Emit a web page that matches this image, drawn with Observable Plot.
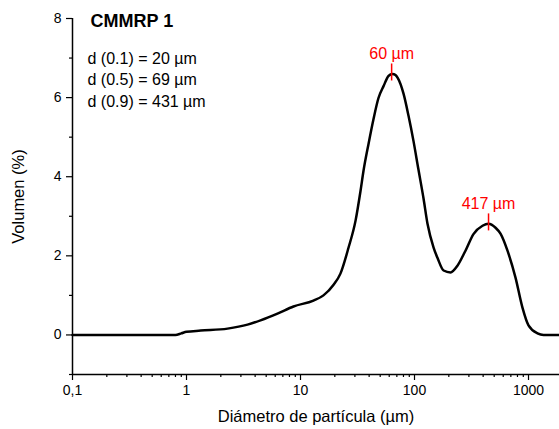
<!DOCTYPE html>
<html>
<head>
<meta charset="utf-8">
<script src="https://cdn.jsdelivr.net/npm/d3@7"></script>
<script src="https://cdn.jsdelivr.net/npm/@observablehq/plot@0.6"></script>
<style>
  html, body { margin: 0; padding: 0; background: #fff; }
  #chart svg { font-family: "Liberation Sans", Arial, sans-serif; display: block; }
  #chart svg g[aria-label="x-axis tick label"] text,
  #chart svg g[aria-label="y-axis tick label"] text { font-size: 14px; }
  #chart svg g[aria-label="x-axis label"] text,
  #chart svg g[aria-label="y-axis label"] text { font-size: 16.5px; }
</style>
</head>
<body>
<div id="chart"></div>
<script>
// Particle size distribution (µm) vs volume (%)
const diameters = [0.1, 0.3, 0.6, 0.8, 0.9, 1.0, 1.33, 2.29, 3.43, 4.46, 6.28, 8.68, 13.0, 15.9, 19.5, 22.4, 26.4, 30.4, 33.6, 35.7, 39.5, 43.7, 48.3, 53.5, 59.2, 64, 68.1, 71.2, 80.1, 88.6, 98, 108, 120, 130, 147, 159, 180, 207, 238, 280, 329, 395, 446, 514, 568, 654, 769, 885, 1000, 1199, 1355, 1600, 1870];
const volumes   = [0,   0,   0,   0,   0.04, 0.08, 0.11, 0.16, 0.26, 0.37, 0.54, 0.72, 0.87, 1.0,  1.27, 1.55, 2.21, 2.89, 3.64, 4.15, 4.83, 5.46, 5.99, 6.29, 6.55, 6.6, 6.57, 6.5, 6.1, 5.54, 4.9, 4.2, 3.45, 2.81, 2.21, 1.95, 1.63, 1.58, 1.75, 2.13, 2.55, 2.76, 2.81, 2.71, 2.56, 2.13, 1.45, 0.69, 0.24, 0.04, 0, 0, 0];

const sampleTitle = "CMMRP 1";
const dLabels = ["d (0.1) = 20 µm", "d (0.5) = 69 µm", "d (0.9) = 431 µm"];

const peakX = [63, 446];
const peakY = [6.6, 2.81];
const peakLabels = ["60 µm", "417 µm"];

const xTickValues = [0.1, 1, 10, 100, 1000];
const xTickLabels = ["0,1", "1", "10", "100", "1000"];
const yTickValues = [0, 2, 4, 6, 8];
const yMinorTicks = [-1, 1, 3, 5, 7];
const xMinorTicks = [];
for (const k of [0.1, 1, 10, 100, 1000]) for (let m = 2; m <= 9; m++) if (k * m <= 1870) xMinorTicks.push(k * m);

const xLabel = "Diámetro de partícula (µm)";
const yLabel = "Volumen (%)";

const curve = diameters.map((d, i) => ({d, v: volumes[i]}));
const peaks = peakX.map((x, i) => ({x, y: peakY[i], label: peakLabels[i]}));

const chart = Plot.plot({
  width: 559,
  height: 429,
  marginLeft: 72,
  marginRight: 0,
  marginTop: 18,
  marginBottom: 55,
  style: {fontFamily: '"Liberation Sans", Arial, sans-serif', fontSize: "14px", color: "#000", background: "#fff"},
  x: {type: "log", domain: [0.1, 1870]},
  y: {domain: [-1, 8]},
  marks: [
    // minor ticks
    Plot.axisX({ticks: xMinorTicks, tickSize: 3, text: null, label: null, strokeWidth: 1.2}),
    Plot.axisY({ticks: yMinorTicks, tickSize: 3, text: null, label: null, strokeWidth: 1.2}),
    // major ticks
    Plot.axisX({ticks: xTickValues, tickSize: 6, tickPadding: 5, strokeWidth: 1.2,
      tickFormat: (d) => xTickLabels[xTickValues.indexOf(d)],
      label: xLabel, labelAnchor: "center", labelOffset: 47, labelArrow: "none"}),
    Plot.axisY({ticks: yTickValues, tickSize: 6, tickPadding: 5, strokeWidth: 1.2,
      label: yLabel, labelAnchor: "center", labelOffset: 60, labelArrow: "none"}),
    // axis lines
    Plot.ruleX([0.1], {stroke: "#000", strokeWidth: 1.5}),
    Plot.ruleY([-1], {stroke: "#000", strokeWidth: 1.5}),
    // curve
    Plot.line(curve, {x: "d", y: "v", stroke: "#000", strokeWidth: 2.5, curve: "monotone-x"}),
    // peak markers
    Plot.ruleX(peaks, {x: "x", y1: (d) => d.y - 0.18, y2: (d) => d.y + 0.25, stroke: "#ff0000", strokeWidth: 1.5}),
    Plot.text(peaks, {x: "x", y: "y", text: "label", dy: -20, fill: "#ff0000", fontSize: 16}),
    // title and d-values
    Plot.text([sampleTitle], {frameAnchor: "top-left", dx: 18, dy: 3, lineAnchor: "middle", textAnchor: "start", fontWeight: "bold", fontSize: 18}),
    Plot.text([dLabels.join("\n")], {frameAnchor: "top-left", dx: 15, dy: 60, lineAnchor: "middle", textAnchor: "start", fontSize: 16, lineHeight: 1.35})
  ]
});
document.getElementById("chart").appendChild(chart);
</script>
</body>
</html>
